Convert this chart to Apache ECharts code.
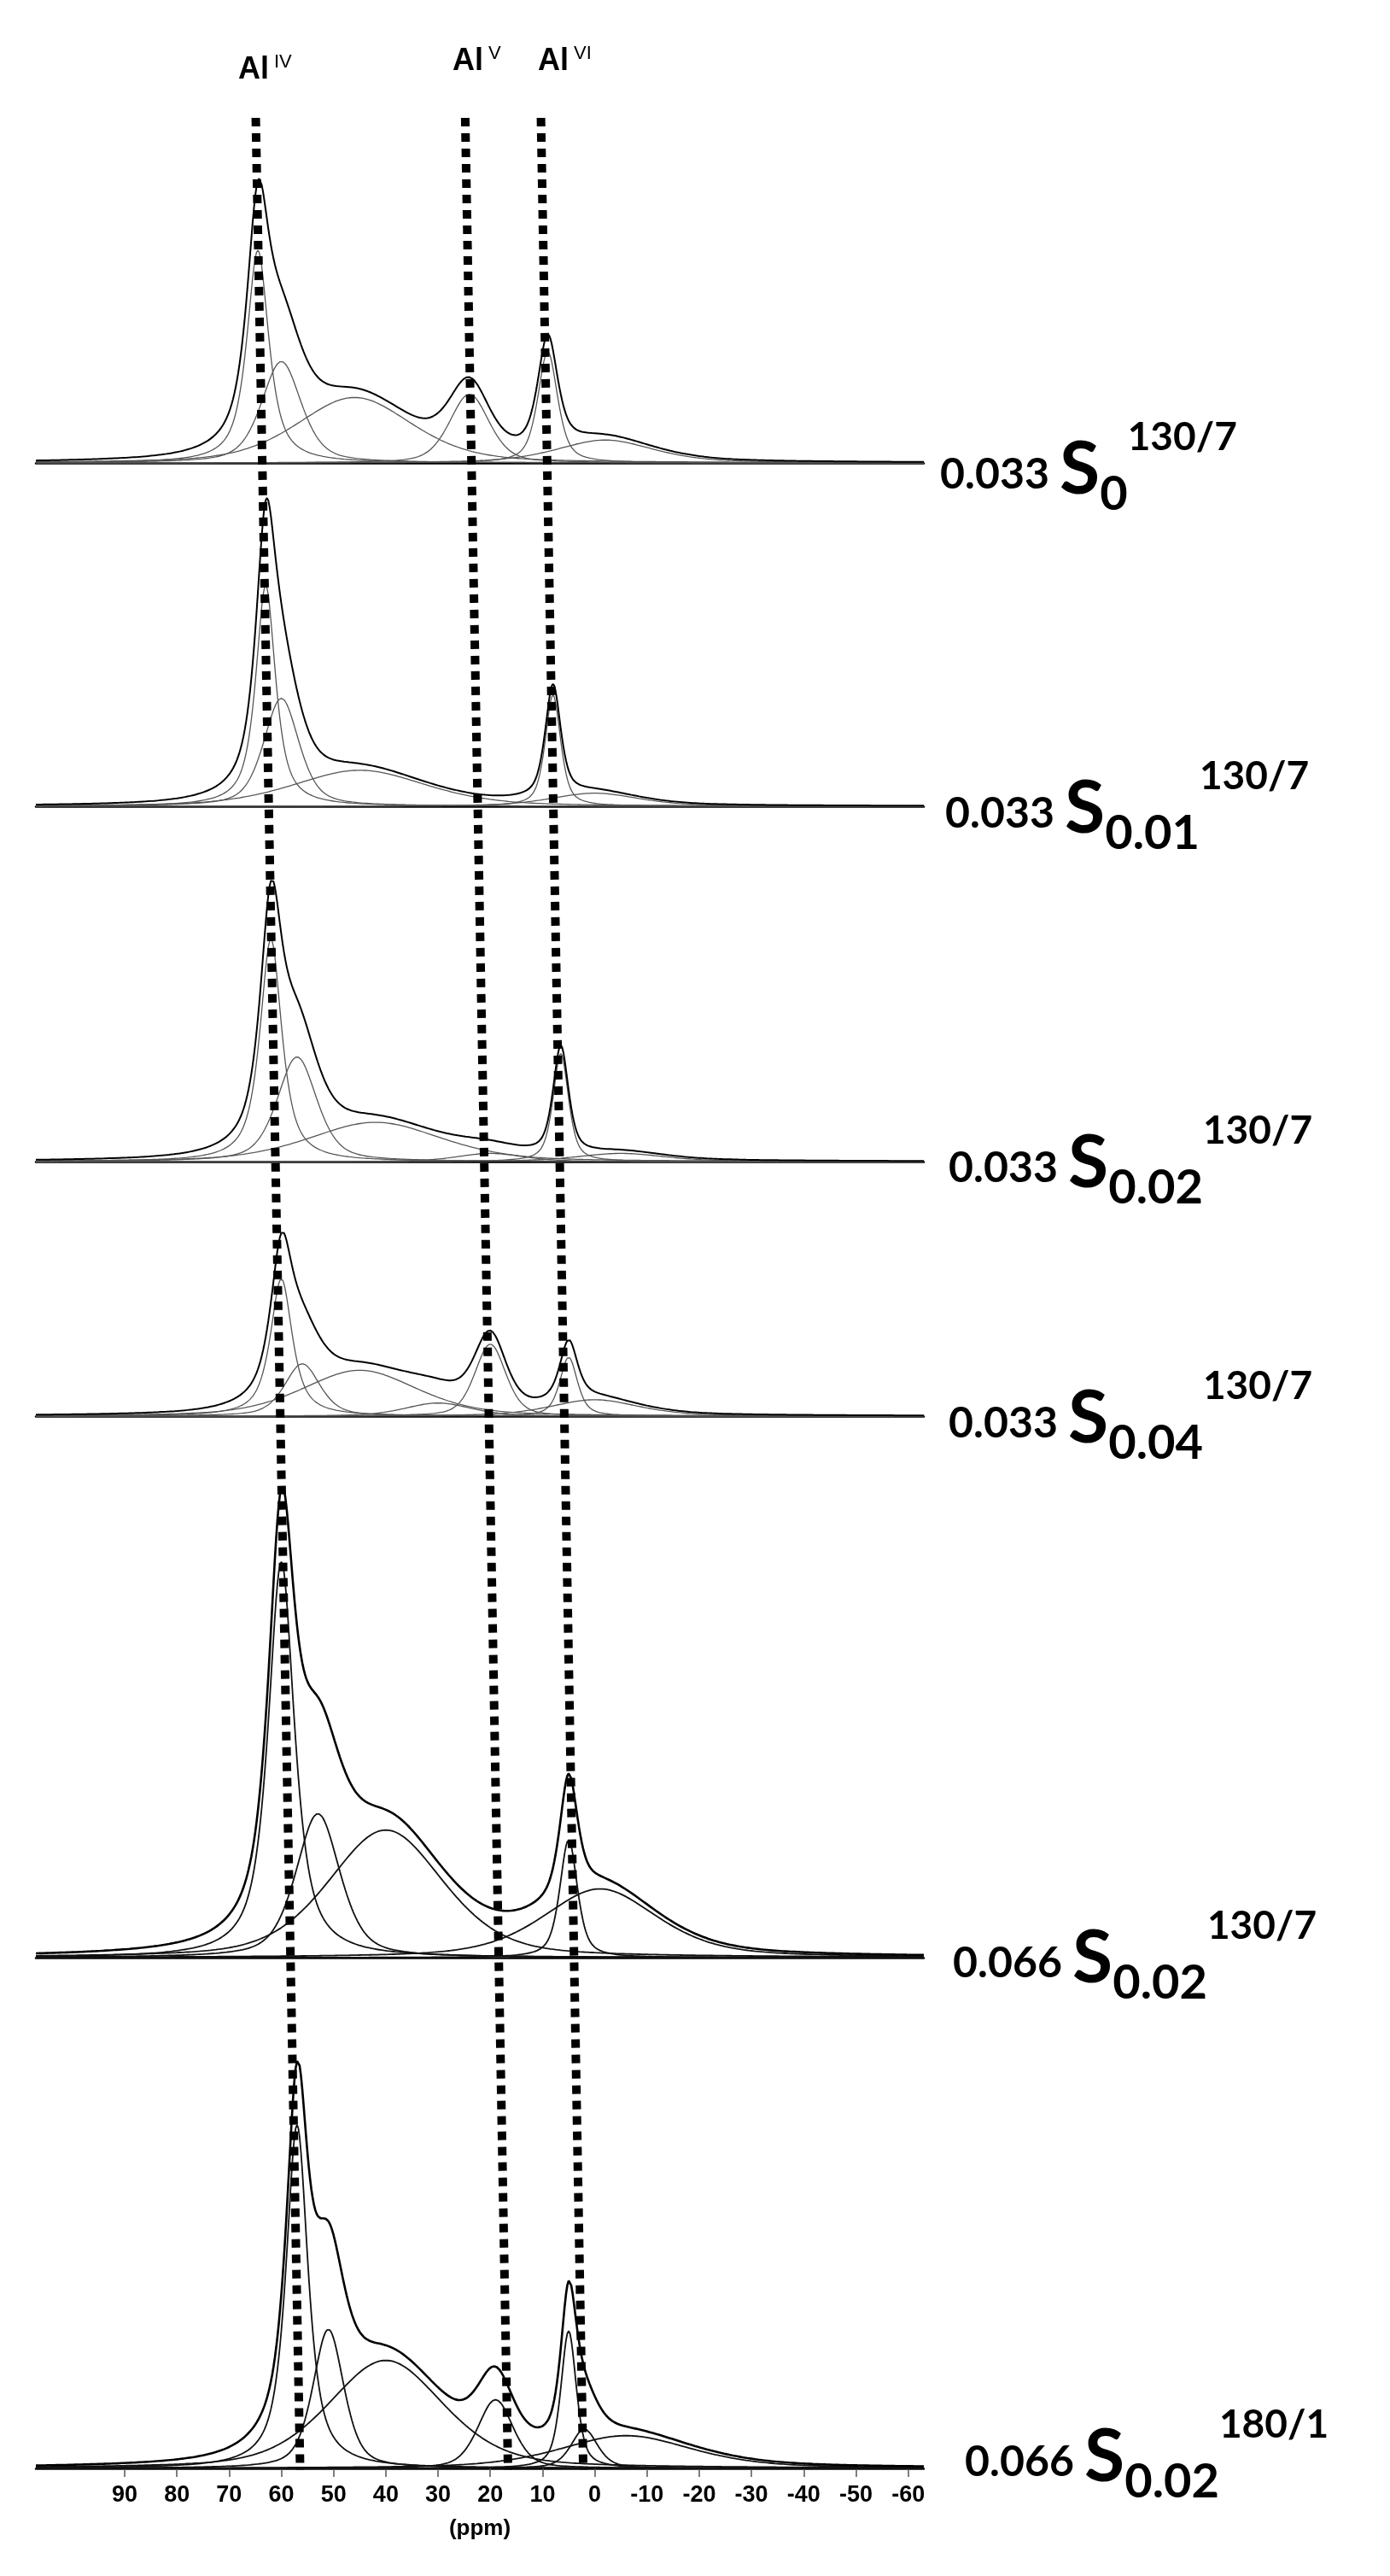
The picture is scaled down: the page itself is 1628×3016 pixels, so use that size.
<!DOCTYPE html>
<html><head><meta charset="utf-8">
<script src="https://cdn.jsdelivr.net/npm/echarts@6/dist/echarts.min.js"></script>
<style>html,body{margin:0;padding:0;background:#fff}#c{width:1628px;height:3016px}</style>
</head><body><div id="c"></div>
<script>
// ppm axis
const xMin = -63, xMax = 107;
const tickValues = [90,80,70,60,50,40,30,20,10,0,-10,-20,-30,-40,-50,-60];
const tickLabels = ['90','80','70','60','50','40','30','20','10','0','-10','-20','-30','-40','-50','-60'];
// sample labels
const sampleConc = ['0.033','0.033','0.033','0.033','0.066','0.066'];
const sampleSub = ['0','0.01','0.02','0.04','0.02','0.02'];
const sampleSup = ['130/7','130/7','130/7','130/7','130/7','180/1'];
// fitted components: [centre ppm, height, fwhm ppm, lorentz fraction]
const spec1 = [[64.5,130,5,0.8],[60,62,9,0.5],[46,40,26,0.4],[24,42,9,0.4],[9,68,4.5,0.6],[-2,14,22,0.5]];
const spec2 = [[63,135,4.5,0.8],[60,66,8,0.5],[45,22,30,0.4],[8,68,3.5,0.6],[0,8,20,0.5]];
const spec3 = [[62,136,5,0.8],[57,64,9,0.5],[42,24,30,0.4],[20,5,15,0.4],[6.5,66,3.5,0.6],[-5,5,20,0.5]];
const spec4 = [[60,84,5,0.8],[56,32,8,0.5],[45,28,26,0.4],[30,8,15,0.4],[20,44,7,0.4],[5,36,4,0.6],[0,10,20,0.5]];
const spec5 = [[60,242,6,0.8],[53,88,10,0.5],[40,78,26,0.4],[5,72,4,0.6],[-1,42,26,0.5]];
const spec6 = [[57,210,5,0.8],[51,85,7,0.5],[40,66,26,0.4],[19,42,8,0.4],[5,84,3.5,0.6],[2,24,6,0.5],[-6,20,30,0.5]];
const spectra = [spec1,spec2,spec3,spec4,spec5,spec6];
// dotted guide lines: [ppm at top, ppm at bottom]
const guideIV = [64.9,56.4], guideV = [24.8,16.6], guideVI = [10.3,2.2];

const baselines = [542,944,1360,1658,2292,2890];
const yMaxs = [200,200,200,200,320,320];
const SCALE = 1.915;
const L = 42, R = 1628-1082;

function pv(x,c){const d=(x-c[0])/c[2];const g=Math.exp(-4*Math.LN2*d*d);const l=1/(1+4*d*d);return c[1]*(c[3]*l+(1-c[3])*g);}
const xs=[];for(let x=xMax;x>=xMin;x-=0.25)xs.push(+x.toFixed(2));

const grids=[],xAxes=[],yAxes=[],series=[];
spectra.forEach((sp,i)=>{
  const top = baselines[i]-yMaxs[i]*SCALE;
  grids.push({left:L,right:R,top:top,height:yMaxs[i]*SCALE});
  const last = i===5;
  xAxes.push({type:'value',gridIndex:i,min:xMin,max:xMax,inverse:true,
    axisLine:{show:true,onZero:false,lineStyle:{color:'#000',width:2.5}},
    splitLine:{show:false},
    axisTick:{show:last,customValues:tickValues,length:10,inside:false,lineStyle:{color:'#555',width:1.5}},
    axisLabel:{show:last,customValues:tickValues,formatter:v=>tickLabels[tickValues.indexOf(v)]||'',
      fontFamily:'Liberation Sans Narrow, Liberation Sans, sans-serif',fontWeight:'bold',fontSize:27,color:'#000',margin:18},
    name:last?'(ppm)':'',nameLocation:'middle',nameGap:58,
    nameTextStyle:{fontFamily:'Liberation Sans Narrow, Liberation Sans, sans-serif',fontWeight:'bold',fontSize:26,color:'#000'}});
  yAxes.push({type:'value',gridIndex:i,min:0,max:yMaxs[i],show:false});
  const compColor = i>=4?'#111':'#555';
  sp.forEach(c=>{
    series.push({type:'line',xAxisIndex:i,yAxisIndex:i,showSymbol:false,silent:true,
      lineStyle:{color:compColor,width:i>=4?1.8:1.3},data:xs.map(x=>[x,pv(x,c)])});
  });
  series.push({type:'line',xAxisIndex:i,yAxisIndex:i,showSymbol:false,silent:true,
    lineStyle:{color:'#000',width:i>=4?2.6:2},data:xs.map(x=>[x,sp.reduce((s,c)=>s+pv(x,c),0)])});
});
// overlay grid for guides
grids.push({left:L,right:R,top:138,bottom:3016-2892});
xAxes.push({type:'value',gridIndex:6,min:xMin,max:xMax,inverse:true,show:false});
yAxes.push({type:'value',gridIndex:6,min:0,max:1,show:false});
[guideIV,guideV,guideVI].forEach(g=>{
  series.push({type:'line',xAxisIndex:6,yAxisIndex:6,showSymbol:false,silent:true,z:5,
    lineStyle:{color:'#000',width:10,type:[10,8],cap:'butt'},data:[[g[0],1],[g[1],0]]});
});

const labelPos=[[1101,561],[1107,958],[1111,1373],[1111,1672],[1116,2304],[1130,2888]];
const graphics=[];
labelPos.forEach((p,i)=>{
  graphics.push({type:'text',left:p[0],top:p[1]-72,z:10,style:{
    text:'{a|'+sampleConc[i]+' }{s|S}{b|'+sampleSub[i]+'}{p|'+sampleSup[i]+'}',
    rich:{
      a:{fontFamily:'Lato, Open Sans, sans-serif',fontWeight:'bold',fontSize:50,color:'#000',verticalAlign:'bottom',padding:[0,0,26,0],lineHeight:150},
      s:{fontFamily:'Lato, Open Sans, sans-serif',fontWeight:'bold',fontSize:86,color:'#000',verticalAlign:'bottom',padding:[0,0,14,0],lineHeight:150},
      b:{fontFamily:'Lato, Open Sans, sans-serif',fontWeight:'bold',fontSize:56,color:'#000',verticalAlign:'bottom',padding:[0,0,0,0],lineHeight:150},
      p:{fontFamily:'Lato, Open Sans, sans-serif',fontWeight:'bold',fontSize:46,color:'#000',verticalAlign:'bottom',padding:[0,0,72,0],lineHeight:150}
    }}});
});
const alLabels=[['IV',279],['V',530],['VI',630]];
alLabels.forEach((a,i)=>{
  graphics.push({type:'text',left:a[1],top:i===0?62:52,z:10,style:{
    text:'{a|Al}{p|'+a[0]+'}',
    rich:{a:{fontFamily:'Liberation Sans, Arial, sans-serif',fontWeight:'bold',fontSize:36,color:'#000',verticalAlign:'bottom',lineHeight:50},
          p:{fontFamily:'Liberation Sans, Arial, sans-serif',fontSize:22,color:'#000',verticalAlign:'bottom',padding:[0,0,16,6],lineHeight:50}}}});
});

const chart=echarts.init(document.getElementById('c'),null,{renderer:'canvas'});
chart.setOption({animation:false,backgroundColor:'#fff',grid:grids,xAxis:xAxes,yAxis:yAxes,series:series,graphic:graphics});
</script></body></html>
